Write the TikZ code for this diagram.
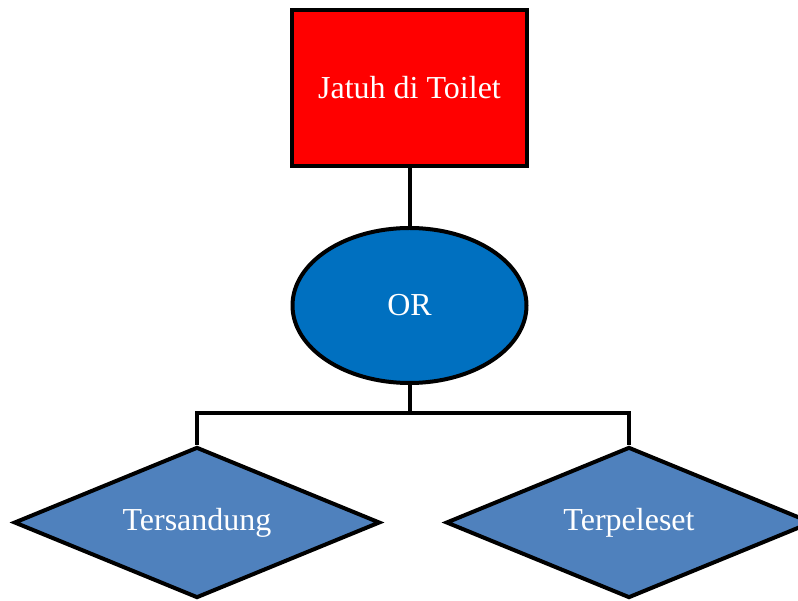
\documentclass[tikz,border=0pt]{standalone}
\usepackage{fontspec}
\setmainfont{Liberation Serif}
\usetikzlibrary{shapes.geometric}
\definecolor{topred}{HTML}{FF0000}
\definecolor{gateblue}{HTML}{0070C0}
\definecolor{basicblue}{HTML}{4F81BD}
\tikzset{
    ftbox/.style={draw=black, line width=4pt, text=white, inner sep=0pt,
        font=\fontsize{32}{36}\selectfont},
    topevent/.style={ftbox, rectangle, fill=topred, minimum width=235pt, minimum height=156pt},
    orgate/.style={ftbox, ellipse, fill=gateblue, minimum width=234pt, minimum height=155pt},
    basicevent/.style={ftbox, diamond, aspect=2.4, fill=basicblue, minimum width=366pt, minimum height=151pt},
    link/.style={line width=4pt}
}

\begin{document}
\begin{tikzpicture}[x=1pt,y=-1pt]
                \useasboundingbox (0,0) rectangle (798,601);
                
                % Events and gate
                \node[topevent] (top) at (409.5,88) {Jatuh di Toilet};
                \node[orgate] (gate) at (409.5,305.5) {OR};
                \node[basicevent] (trip) at (197,522.5) {Tersandung};
                \node[basicevent] (slip) at (629,522.5) {Terpeleset};
                
                % Connectors
                \coordinate (bar) at (409.5,413);
                \draw[link] (top.south) -- (gate.north);
                \draw[link] (gate.south) -- (bar);
                \draw[link] (bar) -| (trip.north);
                \draw[link] (bar) -| (slip.north);
            \end{tikzpicture}
\end{document}
